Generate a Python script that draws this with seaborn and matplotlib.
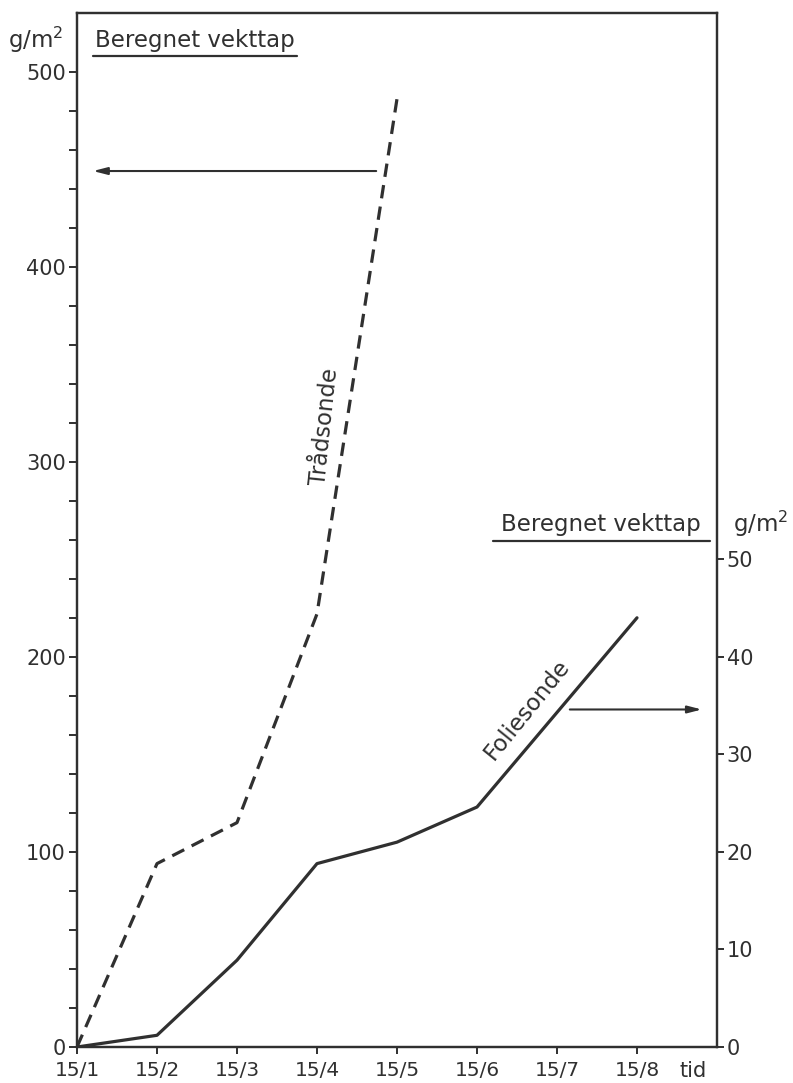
import numpy as np
import pandas as pd
import matplotlib
matplotlib.use('Agg')
import matplotlib.pyplot as plt
import seaborn as sns

# data
months = ['15/1', '15/2', '15/3', '15/4', '15/5', '15/6', '15/7', '15/8']
tradsonde = [0, 94, 115, 222, 486]                          # g/m2, left axis
foliesonde = [0, 1.2, 8.9, 18.8, 21.0, 24.6, 34.3, 44.0]    # g/m2, right axis

left_major = [0, 100, 200, 300, 400, 500]
right_major = [0, 10, 20, 30, 40, 50]

ink = '#303030'

sns.set_theme(style='ticks')
plt.rcParams['font.family'] = ['DejaVu Sans']
plt.rcParams['mathtext.fontset'] = 'dejavusans'

fig = plt.figure(figsize=(7.93, 10.83), dpi=100)
ax = fig.add_axes([77 / 793, 1 - 1047 / 1083, 640 / 793, 1034 / 1083])
ax2 = ax.twinx()

df_t = pd.DataFrame({'x': np.arange(len(tradsonde)), 'y': tradsonde})
df_f = pd.DataFrame({'x': np.arange(len(foliesonde)), 'y': foliesonde})

sns.lineplot(data=df_t, x='x', y='y', ax=ax, color=ink, lw=2.3)
sns.lineplot(data=df_f, x='x', y='y', ax=ax2, color=ink, lw=2.3)
ax.lines[0].set_dashes((4.2, 2.6))

ax.set_xlim(0, 8)
ax.set_ylim(0, 530)
ax2.set_ylim(0, 106)

ax.set_xticks(range(len(months)))
ax.set_xticklabels(months)
ax.set_yticks(left_major)
ax.set_yticks(np.arange(0, 520, 20), minor=True)
ax2.set_yticks(right_major)

ax.set_xlabel('')
ax.set_ylabel('')
ax2.set_ylabel('')

for a in (ax, ax2):
    for sp in a.spines.values():
        sp.set_visible(True)
        sp.set_color(ink)
        sp.set_linewidth(1.6)

ax.tick_params(axis='x', direction='out', length=5, width=1.4, colors=ink,
               labelsize=14.5, pad=5)
ax.tick_params(axis='y', which='both', direction='out', length=6, width=1.4,
               colors=ink, labelsize=15, pad=2)
ax2.tick_params(axis='y', direction='out', length=5, width=1.4, colors=ink,
                labelsize=15, pad=2)

txt = dict(color=ink, fontsize=16.5, clip_on=False)

# left header
ax.text(1.475, 516, 'Beregnet vekttap', ha='center', va='center', **txt)
ax.plot([0.2, 2.75], [508, 508], color=ink, lw=1.6, clip_on=False)
ax.text(-0.52, 516, r'g/m$^2$', ha='center', va='center', **txt)

# right header
ax.text(6.55, 268, 'Beregnet vekttap', ha='center', va='center', **txt)
ax.plot([5.2, 7.91], [259.5, 259.5], color=ink, lw=1.6, clip_on=False)
ax.text(8.55, 268, r'g/m$^2$', ha='center', va='center', **txt)

# curve labels
ax.text(3.1, 318, 'Trådsonde', ha='center', va='center', rotation=84, **txt)
ax.text(5.62, 173, 'Foliesonde', ha='center', va='center', rotation=51, **txt)

# axis pointers
ax.annotate('', xy=(0.2, 449), xytext=(3.74, 449),
            arrowprops=dict(arrowstyle='-|>,head_length=0.7,head_width=0.18',
                            color=ink, lw=1.5, shrinkA=0, shrinkB=0))
ax.annotate('', xy=(7.81, 173), xytext=(6.16, 173),
            arrowprops=dict(arrowstyle='-|>,head_length=0.7,head_width=0.18',
                            color=ink, lw=1.5, shrinkA=0, shrinkB=0))

# time label
ax.text(7.7, -12.5, 'tid', ha='center', va='center', color=ink, fontsize=15,
        clip_on=False)

fig.savefig('out.png', dpi=100)
